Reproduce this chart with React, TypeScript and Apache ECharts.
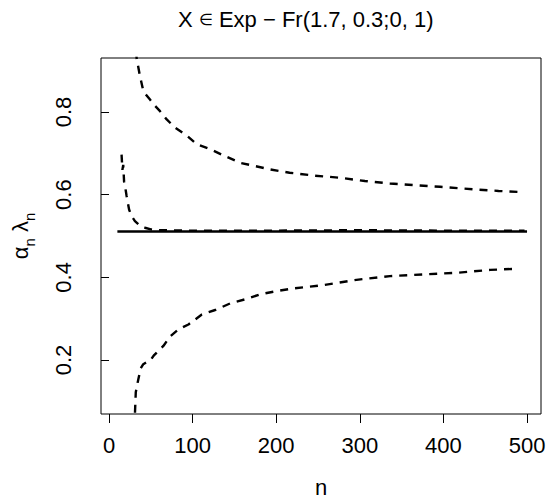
import React, { useEffect, useRef } from "react";
import * as echarts from "echarts";

const solidN = [10, 500];
const solidV = [0.511, 0.511];

const upperN = [30, 33, 37, 41, 45, 49, 55, 61, 69, 79, 93, 105, 121, 139, 157, 175, 193, 216, 246, 276, 306, 336, 366, 396, 436, 466, 496];
const upperV = [1.02, 0.93, 0.887, 0.851, 0.84, 0.83, 0.815, 0.802, 0.782, 0.762, 0.743, 0.722, 0.71, 0.693, 0.677, 0.669, 0.661, 0.653, 0.646, 0.641, 0.633, 0.627, 0.623, 0.619, 0.613, 0.609, 0.606];

const lowerN = [30, 31, 32, 35, 38, 41, 45, 49, 54, 59, 65, 73, 83, 95, 111, 127, 145, 163, 181, 201, 220, 256, 296, 336, 376, 416, 456, 490];
const lowerV = [0.0, 0.07, 0.122, 0.153, 0.18, 0.19, 0.195, 0.198, 0.212, 0.222, 0.234, 0.257, 0.274, 0.286, 0.31, 0.321, 0.337, 0.347, 0.359, 0.367, 0.373, 0.381, 0.394, 0.403, 0.407, 0.411, 0.418, 0.421];

const midN = [15, 16, 17, 18, 20, 21, 24, 27, 31, 37, 43, 50, 60, 100, 200, 300, 400, 497];
const midV = [0.697, 0.66, 0.672, 0.632, 0.61, 0.597, 0.564, 0.548, 0.536, 0.525, 0.52, 0.516, 0.514, 0.513, 0.513, 0.514, 0.513, 0.513];

const xTicks = [0, 100, 200, 300, 400, 500];
const yTicks = [0.2, 0.4, 0.6, 0.8];

const titleText = "X {e|∈} Exp − Fr(1.7, 0.3;0, 1)";
const xName = "n";

const FONT = "Liberation Sans, Arial, Helvetica, sans-serif";
const FS = 22;

function zip(a: number[], b: number[]) {
  return a.map((v, i) => [v, b[i]]);
}

export default function App() {
  const ref = useRef<HTMLDivElement>(null);
  useEffect(() => {
    if (!ref.current) return;
    const chart = echarts.init(ref.current, undefined, { renderer: "svg" });
    const dashed = { color: "#000", width: 2.4, type: [8, 7] as any };
    chart.setOption({
      animation: false,
      backgroundColor: "#fff",
      title: {
        text: titleText,
        left: 178,
        top: 8,
        padding: 0,
        textStyle: {
          fontFamily: FONT,
          fontSize: FS,
          fontWeight: "normal",
          color: "#000",
          rich: {
            e: { fontFamily: FONT, fontSize: 16, color: "#000" },
          },
        },
      },
      grid: {
        left: 101,
        top: 58,
        width: 440,
        height: 356,
        show: true,
        borderColor: "#000",
        borderWidth: 1,
        backgroundColor: "transparent",
        containLabel: false,
        outerBoundsMode: "none",
      },
      xAxis: {
        type: "value",
        min: -9.6,
        max: 516.7,
        name: xName,
        nameLocation: "middle",
        nameGap: 62,
        nameMoveOverlap: false,
        nameTextStyle: { fontFamily: FONT, fontSize: FS, color: "#000" },
        axisLine: { show: false },
        splitLine: { show: false },
        axisTick: { show: true, length: 9, customValues: xTicks, lineStyle: { color: "#000", width: 1 } },
        axisLabel: {
          customValues: xTicks,
          margin: 20,
          fontFamily: FONT,
          fontSize: FS,
          color: "#000",
        },
      },
      yAxis: {
        type: "value",
        min: 0.0694,
        max: 0.9306,
        name: "{a|α}{s|n}{a| λ}{s|n}",
        nameLocation: "middle",
        nameGap: 62,
        nameMoveOverlap: false,
        nameTextStyle: {
          fontFamily: FONT,
          color: "#000",
          rich: {
            a: { fontFamily: FONT, fontSize: FS, color: "#000", padding: [0, 0, 8, 0] },
            s: { fontFamily: FONT, fontSize: 15, color: "#000", padding: [10, 0, 0, 0] },
          },
        },
        axisLine: { show: false },
        splitLine: { show: false },
        axisTick: { show: true, length: 8, customValues: yTicks, lineStyle: { color: "#000", width: 1 } },
        axisLabel: {
          customValues: yTicks,
          rotate: 90,
          margin: 27,
          fontFamily: FONT,
          fontSize: FS,
          color: "#000",
          formatter: (v: number) => v.toFixed(1),
        },
      },
      series: [
        {
          type: "line",
          data: zip(solidN, solidV),
          showSymbol: false,
          lineStyle: { color: "#000", width: 2.6 },
          clip: true,
        },
        {
          type: "line",
          data: zip(midN, midV),
          showSymbol: false,
          lineStyle: dashed,
          clip: true,
        },
        {
          type: "line",
          data: zip(upperN, upperV),
          showSymbol: false,
          lineStyle: dashed,
          clip: true,
        },
        {
          type: "line",
          data: zip(lowerN, lowerV),
          showSymbol: false,
          lineStyle: dashed,
          clip: true,
        },
      ],
    });
    return () => chart.dispose();
  }, []);
  return (
    <div
      ref={ref}
      style={{ position: "absolute", left: 0, top: 0, width: 547, height: 498 }}
    />
  );
}
